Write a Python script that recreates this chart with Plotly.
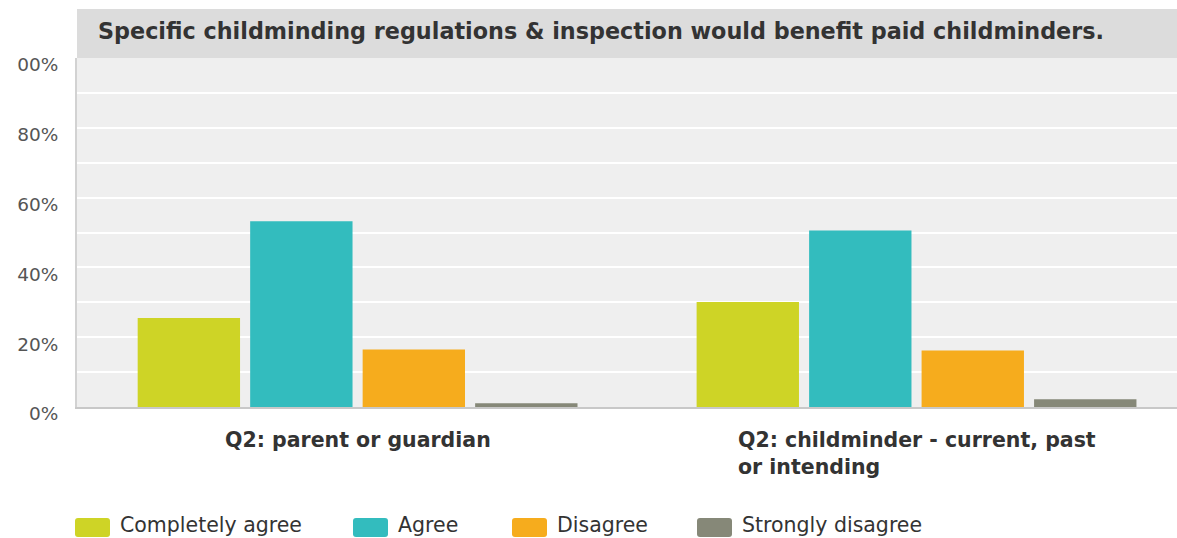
import plotly.graph_objects as go

# ---- data -------------------------------------------------------------
categories = ["Q2: parent or guardian", "Q2: childminder - current, past or intending"]
category_labels = ["Q2: parent or guardian", "Q2: childminder - current, past<br>or intending"]
series_names = ["Completely agree", "Agree", "Disagree", "Strongly disagree"]
completely_agree = [25.5, 30.1]
agree = [53.2, 50.6]
disagree = [16.5, 16.2]
strongly_disagree = [1.1, 2.2]
y_tick_values = [0, 20, 40, 60, 80, 100]
y_tick_labels = ["0%", "20%", "40%", "60%", "80%", "00%"]
y_minor_values = [10, 30, 50, 70, 90]
title_text = "Specific childminding regulations & inspection would benefit paid childminders."

# ---- style ------------------------------------------------------------
colors = ["#CED426", "#33BCBE", "#F6AC1D", "#868878"]
W, H = 1177, 538
L, R, T, B = 77, 0, 58, 131
plot_w = W - L - R
plot_h = H - T - B
FONT = "DejaVu Sans"


def fx(px):
    return (px - L) / plot_w


def fy(py):
    return (H - B - py) / plot_h


def rounded_rect(x0, y0, x1, y1, r=3):
    """Rounded rectangle path, pixel corners converted to paper coordinates."""
    ax0, ax1 = fx(x0), fx(x1)
    ay0, ay1 = fy(y0), fy(y1)
    rx, ry = r / plot_w, r / plot_h
    return (
        f"M {ax0 + rx},{ay0} L {ax1 - rx},{ay0} Q {ax1},{ay0} {ax1},{ay0 - ry} "
        f"L {ax1},{ay1 + ry} Q {ax1},{ay1} {ax1 - rx},{ay1} "
        f"L {ax0 + rx},{ay1} Q {ax0},{ay1} {ax0},{ay1 + ry} "
        f"L {ax0},{ay0 - ry} Q {ax0},{ay0} {ax0 + rx},{ay0} Z"
    )


series_values = [completely_agree, agree, disagree, strongly_disagree]

fig = go.Figure()
for name, vals, col in zip(series_names, series_values, colors):
    fig.add_trace(
        go.Bar(
            x=categories,
            y=vals,
            name=name,
            marker=dict(color=col, line=dict(width=0)),
            showlegend=False,
        )
    )

shapes = [
    # grey title band above the plotting area
    dict(
        type="rect", xref="paper", yref="paper",
        x0=0, x1=1, y0=1, y1=fy(9),
        fillcolor="#DCDCDC", line=dict(width=0), layer="below",
    )
]

annotations = [
    dict(
        text=title_text, xref="paper", yref="paper",
        x=fx(96), y=fy(31), xanchor="left", yanchor="middle",
        showarrow=False,
        font=dict(family=FONT, size=22.3, color="#333333", weight="bold"),
    )
]

# category labels: block centred under each group, lines left-aligned
for cat, lab in zip(categories, category_labels):
    annotations.append(
        dict(
            text=lab, xref="x", yref="paper", x=cat, y=0,
            xanchor="center", yanchor="top", yshift=-19, align="left",
            showarrow=False,
            font=dict(family=FONT, size=20.5, color="#333333", weight="bold"),
        )
    )

# legend row along the bottom
legend_left = [75, 353, 512, 697]
for name, col, x0 in zip(series_names, colors, legend_left):
    shapes.append(
        dict(
            type="path", xref="paper", yref="paper",
            path=rounded_rect(x0, 518, x0 + 35, 537),
            fillcolor=col, line=dict(width=0),
        )
    )
    annotations.append(
        dict(
            text=name, xref="paper", yref="paper",
            x=fx(x0 + 44), y=fy(538), xanchor="left", yanchor="bottom",
            showarrow=False, borderpad=0,
            font=dict(family=FONT, size=20.5, color="#333333"),
        )
    )

fig.update_layout(
    width=W,
    height=H,
    margin=dict(l=L, r=R, t=T, b=B, autoexpand=False),
    paper_bgcolor="white",
    plot_bgcolor="#EFEFEF",
    barmode="group",
    bargap=0.195,
    bargroupgap=0.09,
    shapes=shapes,
    annotations=annotations,
    showlegend=False,
    xaxis=dict(
        type="category",
        range=[-0.502, 1.466],
        showticklabels=False,
        showgrid=False,
        showline=True,
        linecolor="#C8C8C8",
        linewidth=2,
        ticks="",
    ),
    yaxis=dict(
        range=[0, 100],
        tickvals=y_tick_values,
        ticktext=y_tick_labels,
        showgrid=True,
        gridcolor="white",
        gridwidth=2,
        minor=dict(tickvals=y_minor_values, showgrid=True, gridcolor="white", gridwidth=2),
        zeroline=False,
        showline=True,
        linecolor="#D2D2D2",
        linewidth=2,
        ticks="",
        ticklabelshift=7,
        ticklabelstandoff=13,
        tickfont=dict(family=FONT, size=18.5, color="#555555"),
    ),
)

fig.write_html("out.html")
